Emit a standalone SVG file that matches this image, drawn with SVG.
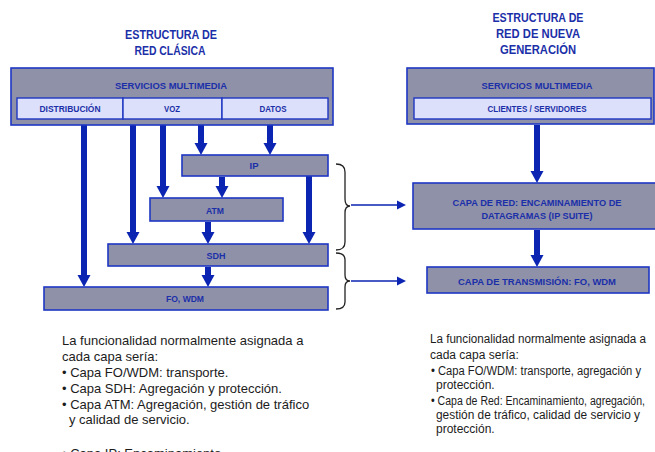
<svg xmlns="http://www.w3.org/2000/svg" width="655" height="452" viewBox="0 0 655 452">
<style>
.box{fill:#8f91a9;stroke:#1f36c2;stroke-width:1.6}
.inner{fill:#dde0fa;stroke:#1f36c2;stroke-width:1.4}
.lbl{font-family:"Liberation Sans",Arial,sans-serif;font-weight:bold;font-size:9.5px;fill:#1b2fa8;text-anchor:middle}
.ttl{font-family:"Liberation Sans",Arial,sans-serif;font-weight:bold;font-size:13px;fill:#1b2fa8;text-anchor:middle}
.body{font-family:"Liberation Sans",Arial,sans-serif;font-size:13px;fill:#1c1c1c}
.bodyr{font-family:"Liberation Sans",Arial,sans-serif;font-size:12px;fill:#1c1c1c}
.thick{stroke:#0b24b2;stroke-width:6;fill:none;marker-end:url(#ah)}
.thin{stroke:#0b24b2;stroke-width:1.6;fill:none;marker-end:url(#as)}
.brace{stroke:#222;stroke-width:1.3;fill:none}
</style>
<defs>
<marker id="ah" markerUnits="userSpaceOnUse" markerWidth="14" markerHeight="14" refX="3" refY="7" orient="auto">
<path d="M0,0.5 L12,7 L0,13.5 z" fill="#0b24b2"/>
</marker>
<marker id="as" markerUnits="userSpaceOnUse" markerWidth="10" markerHeight="10" refX="1" refY="5" orient="auto">
<path d="M0,0.5 L9,5 L0,9.5 z" fill="#0b24b2"/>
</marker>
</defs>
<rect width="655" height="452" fill="#ffffff"/>

<g id="titles">
<text class="ttl" x="171" y="39" textLength="92" lengthAdjust="spacingAndGlyphs">ESTRUCTURA DE</text>
<text class="ttl" x="170" y="55" textLength="71" lengthAdjust="spacingAndGlyphs">RED CLÁSICA</text>
<text class="ttl" x="538" y="22" textLength="91" lengthAdjust="spacingAndGlyphs">ESTRUCTURA DE</text>
<text class="ttl" x="538" y="38" textLength="84" lengthAdjust="spacingAndGlyphs">RED DE NUEVA</text>
<text class="ttl" x="538" y="54" textLength="76" lengthAdjust="spacingAndGlyphs">GENERACIÓN</text>
</g>

<g id="connectors">
<path class="thick" d="M84,120 V278"/>
<path class="thick" d="M133,120 V235"/>
<path class="thick" d="M163,120 V189"/>
<path class="thick" d="M201,120 V146"/>
<path class="thick" d="M270,120 V146"/>
<path class="thick" d="M222,177 V189"/>
<path class="thick" d="M309,173 V235"/>
<path class="thick" d="M208,222 V235"/>
<path class="thick" d="M208,267 V278"/>
<path class="thick" d="M537,125 V174"/>
<path class="thick" d="M537,230 V258"/>
<path class="thin" d="M351,205 H398"/>
<path class="thin" d="M351,281 H398"/>
<path class="brace" d="M336,164 Q345,164 345,172 L345,199 Q345,206 350,206 Q345,206 345,213 L345,242 Q345,250 336,250"/>
<path class="brace" d="M336,253 Q345,253 345,260 L345,275 Q345,281 350,281 Q345,281 345,287 L345,302 Q345,309 336,309"/>
</g>

<g id="servicios-clasica">
<rect class="box" x="11" y="68" width="322" height="57"/>
<text class="lbl" x="171" y="89" font-size="10" textLength="112" lengthAdjust="spacingAndGlyphs">SERVICIOS MULTIMEDIA</text>
</g>
<g id="distribucion">
<rect class="inner" x="17" y="98" width="106" height="21"/>
<text class="lbl" x="70" y="112" font-size="9" textLength="61" lengthAdjust="spacingAndGlyphs">DISTRIBUCIÓN</text>
</g>
<g id="voz">
<rect class="inner" x="123" y="98" width="99" height="21"/>
<text class="lbl" x="172" y="112" font-size="9" textLength="16" lengthAdjust="spacingAndGlyphs">VOZ</text>
</g>
<g id="datos">
<rect class="inner" x="222" y="98" width="106" height="21"/>
<text class="lbl" x="273" y="112" font-size="9" textLength="27" lengthAdjust="spacingAndGlyphs">DATOS</text>
</g>
<g id="ip">
<rect class="box" x="182" y="155" width="146" height="21"/>
<text class="lbl" x="254" y="169" font-size="9">IP</text>
</g>
<g id="atm">
<rect class="box" x="150" y="198" width="133" height="23"/>
<text class="lbl" x="215" y="214" font-size="9" textLength="18" lengthAdjust="spacingAndGlyphs">ATM</text>
</g>
<g id="sdh">
<rect class="box" x="108" y="244" width="220" height="22"/>
<text class="lbl" x="216" y="259" font-size="9" textLength="19" lengthAdjust="spacingAndGlyphs">SDH</text>
</g>
<g id="fo-wdm">
<rect class="box" x="44" y="287" width="284" height="23"/>
<text class="lbl" x="185" y="302" font-size="9" textLength="38" lengthAdjust="spacingAndGlyphs">FO, WDM</text>
</g>

<g id="servicios-nueva">
<rect class="box" x="407" y="68" width="247" height="56"/>
<text class="lbl" x="537" y="89" font-size="10" textLength="111" lengthAdjust="spacingAndGlyphs">SERVICIOS MULTIMEDIA</text>
</g>
<g id="clientes">
<rect class="inner" x="414" y="98" width="237" height="21"/>
<text class="lbl" x="537" y="112" font-size="9" textLength="99" lengthAdjust="spacingAndGlyphs">CLIENTES / SERVIDORES</text>
</g>
<g id="capa-red">
<rect class="box" x="413" y="183" width="246" height="46"/>
<text class="lbl" x="537" y="206" font-size="9.5" textLength="169" lengthAdjust="spacingAndGlyphs">CAPA DE RED: ENCAMINAMIENTO DE</text>
<text class="lbl" x="537" y="219" font-size="9.5" textLength="111" lengthAdjust="spacingAndGlyphs">DATAGRAMAS (IP SUITE)</text>
</g>
<g id="capa-transmision">
<rect class="box" x="427" y="267" width="222" height="26"/>
<text class="lbl" x="537" y="285" font-size="9.5" textLength="158" lengthAdjust="spacingAndGlyphs">CAPA DE TRANSMISIÓN: FO, WDM</text>
</g>

<g id="texto-clasica">
<text class="body" x="62" y="345">La funcionalidad normalmente asignada a</text>
<text class="body" x="62" y="361">cada capa sería:</text>
<text class="body" x="62" y="377">• Capa FO/WDM: transporte.</text>
<text class="body" x="62" y="393">• Capa SDH: Agregación y protección.</text>
<text class="body" x="62" y="409">• Capa ATM: Agregación, gestión de tráfico</text>
<text class="body" x="69" y="424">y calidad de servicio.</text>
<text class="body" x="62" y="458">• Capa IP: Encaminamiento</text>
</g>
<g id="texto-nueva">
<text class="bodyr" x="430" y="343" textLength="216" lengthAdjust="spacingAndGlyphs">La funcionalidad normalmente asignada a</text>
<text class="bodyr" x="430" y="359">cada capa sería:</text>
<text class="bodyr" x="431" y="375" textLength="210" lengthAdjust="spacingAndGlyphs">• Capa FO/WDM: transporte, agregación y</text>
<text class="bodyr" x="436" y="389">protección.</text>
<text class="bodyr" x="431" y="405" textLength="214" lengthAdjust="spacingAndGlyphs">• Capa de Red: Encaminamiento, agregación,</text>
<text class="bodyr" x="436" y="419" textLength="204" lengthAdjust="spacingAndGlyphs">gestión de tráfico, calidad de servicio y</text>
<text class="bodyr" x="436" y="433">protección.</text>
</g>
</svg>
